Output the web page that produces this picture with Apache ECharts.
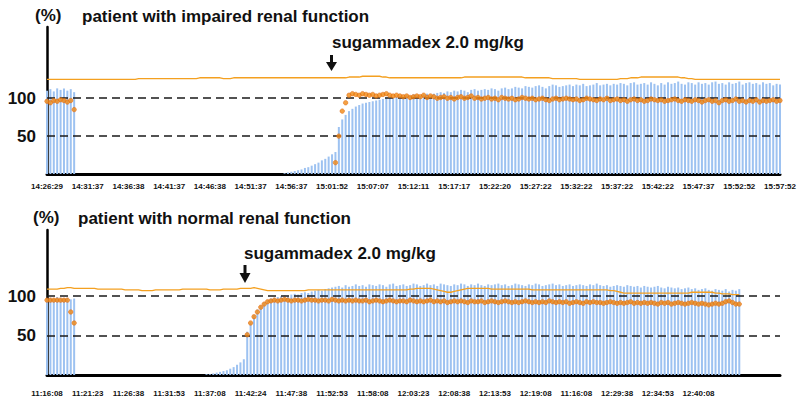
<!DOCTYPE html>
<html>
<head>
<meta charset="utf-8">
<script src="https://cdn.jsdelivr.net/npm/echarts@6/dist/echarts.min.js"></script>
<style>html,body{margin:0;padding:0;background:#fff}#c{width:802px;height:401px}</style>
</head>
<body>
<div id="c"></div>
<script>
// ---------- DATA ----------
var topTitle = 'patient with impaired renal function';
var botTitle = 'patient with normal renal function';
var unitLabel = '(%)';
var doseLabel = 'sugammadex 2.0 mg/kg';
var refLines = [100, 50];
var yTickLabels = [50, 100];

var topTimeLabels = ['14:26:29','14:31:37','14:36:38','14:41:37','14:46:38','14:51:37','14:56:37','15:01:52','15:07:07','15:12:11','15:17:17','15:22:20','15:27:22','15:32:22','15:37:22','15:42:22','15:47:37','15:52:52','15:57:52'];
var botTimeLabels = ['11:16:08','11:21:23','11:26:38','11:31:53','11:37:08','11:42:24','11:47:38','11:52:53','11:58:08','12:03:23','12:08:38','12:13:53','12:19:08','11:16:08','12:29:38','12:34:53','12:40:08'];
var samplesPerLabel = 12;
var sampleCount = 217;

// top panel: T1 twitch height bars
var topT1 = [
110,112,109,113,111,113,110,112,108,0,
0,0,0,0,0,0,0,0,0,0, 0,0,0,0,0,0,0,0,0,0, 0,0,0,0,0,0,0,0,0,0,
0,0,0,0,0,0,0,0,0,0, 0,0,0,0,0,0,0,0,0,0, 0,0,0,0,0,0,0,0,0,0,
1,2,3,4,5,6,8,9,11,13,15,18,20,23,26,29,
62,72,78,83,86,89,91,93,94,95,96,97,98,99,100,100,101,
102,103,102,104,103,105,104,103,105,106,104,106,107,
108,107,109,108,110,109,111,110,108,111,112,110,111,
112,111,113,112,110,113,114,112,113,115,114,113,116,
115,114,116,117,115,113,116,118,117,115,116,117,118,
116,118,117,119,116,117,118,120,117,118,119,117,119,
118,120,119,117,120,121,118,119,120,118,121,119,117,
120,118,121,119,120,122,119,118,121,120,118,121,119,
120,118,121,122,119,120,118,121,119,120,122,118,120,
121,119,120,118,121,119,120,117,119,118
];
// top panel: TOF ratio points
var N = null;
var topTOF = [
96,94,97,96,98,97,95,97,85,
N,N,N,N,N,N,N,N,N,N, N,N,N,N,N,N,N,N,N,N, N,N,N,N,N,N,N,N,N,N,
N,N,N,N,N,N,N,N,N,N, N,N,N,N,N,N,N,N,N,N, N,N,N,N,N,N,N,N,N,N,
N,N,N,N,N,N,N,N,N,N, N,N,N,N,N,N,
15,50,83,94,104,
106,105,104,106,105,104,105,103,104,105,106,104,103,
104,103,102,103,101,102,103,102,104,101,103,102,100,
101,102,100,101,99,101,102,100,101,103,100,101,99,
100,101,99,100,98,101,100,99,100,98,99,101,100,
99,100,98,99,100,98,97,99,100,98,99,100,99,
98,99,97,98,100,99,98,97,99,98,100,97,98,
99,97,98,96,98,99,97,98,96,97,99,98,97,
98,96,97,98,99,97,96,98,97,96,98,97,95,
97,98,96,97,94,97,98,96,97,99,96,97,95,
97,96,98,95,97,96,97,98,96,97
];
// top panel: orange trace line
var topTrace = [
125,125,125,125,125,125,125,125,125,125,
125,125,125,125,125,125,125,125,125,125,
125,125,125,125,125,125,125,126,126,126,
126,126,126,126,126,126,126,126,126,126,
126,126,126,126,126,127,127,127,127,127,
127,127,126,126,126,127,127,127,127,127,
127,127,127,127,127,127,127,127,127,127,
127,127,127,127,127,127,127,127,127,127,
127,127,127,127,127,127,127,127,127,128,
128,128,128,129,129,129,129,129,129,128,
128,127,127,127,127,127,127,127,127,127,
127,127,127,127,127,127,127,127,127,127,
127,127,127,128,128,128,128,128,128,128,
128,128,128,128,128,128,128,128,128,128,
128,127,127,127,127,127,127,127,127,126,
126,126,126,126,126,126,126,125,125,125,
125,125,125,125,125,125,125,125,125,126,
126,126,127,127,127,128,128,128,128,128,
128,128,128,128,128,128,128,127,127,126,
126,125,125,125,125,125,125,125,125,125,
125,125,125,125,125,125,125,125,125,125,
125,125,125,125,125,125,125
];

// bottom panel
var botT1 = [
97,98,97,99,98,97,98,96,97,0,
0,0,0,0,0,0,0,0,0,0, 0,0,0,0,0,0,0,0,0,0, 0,0,0,0,0,0,0,0,0,0, 0,0,0,0,0,0,0,
1,1,2,3,4,5,6,8,10,13,16,20,
55,67,76,83,88,92,95,97,98,99,100,
101,100,102,103,102,104,105,104,106,107,108,107,109,110,111,
112,113,111,114,112,113,115,113,114,112,115,114,
113,115,114,112,115,116,113,114,115,113,114,116,
115,113,114,116,114,115,113,116,115,114,113,115,
114,116,115,113,115,114,116,114,113,115,114,115,
116,114,115,113,114,116,115,114,113,115,114,116,
115,113,114,115,116,114,115,113,114,115,113,114,
115,114,113,115,114,116,114,113,114,112,113,114,
113,112,114,113,112,113,111,113,112,111,112,113,
111,110,112,111,110,111,109,110,111,109,110,108,
109,110,108,107,109,108,107,109,106,108,107,109,
N,N,N,N,N,N,N,N,N,N,N,N
];
var botTOF = [
95,95,95,95,95,95,95,80,66,
N,N,N,N,N,N,N,N,N,N, N,N,N,N,N,N,N,N,N,N, N,N,N,N,N,N,N,N,N,N,
N,N,N,N,N,N,N,N,N,N, N,N,N,N,N,N,N,N,N,N,
51,66,74,80,86,90,93,94,
95,94,95,96,95,94,95,95,94,95,96,95,
95,94,95,95,94,96,95,94,95,94,95,94,
95,94,94,95,93,94,95,94,93,94,95,94,
93,94,94,93,95,94,93,94,93,94,95,93,
94,93,94,92,93,94,93,94,93,92,94,93,
93,94,92,93,94,93,92,93,94,93,92,93,
92,93,94,93,92,93,92,93,92,94,93,92,
93,92,93,91,92,93,92,91,93,92,93,92,
92,91,92,93,92,91,92,91,92,93,91,92,
91,92,91,92,91,90,92,91,92,90,91,92,
91,90,91,92,91,90,91,90,89,90,91,90,
91,93,94,92,90,90,
N,N,N,N,N,N,N,N,N,N,N,N
];
var botTrace = [
109,109,109,109,110,110,111,111,110,110,
110,110,110,110,110,109,109,109,109,109,
109,109,109,108,108,108,108,108,107,107,
107,107,108,108,108,108,108,108,108,108,
109,109,109,109,109,109,109,109,108,108,
108,108,109,109,109,109,109,110,110,110,
110,111,110,109,108,107,107,107,107,107,
107,107,107,107,107,107,107,108,108,108,
108,108,108,108,108,108,108,108,108,108,
108,108,108,108,108,108,108,108,108,108,
108,108,108,108,108,108,108,109,109,110,
110,110,110,110,109,108,107,106,105,105,
106,107,108,109,110,110,110,110,110,110,
110,109,109,109,109,109,109,109,109,109,
109,109,109,108,108,108,108,108,108,108,
108,108,108,108,108,108,108,108,108,108,
108,108,108,108,108,108,107,107,106,105,
104,104,104,104,104,104,104,104,104,104,
104,104,104,104,104,104,104,104,104,104,
105,105,105,105,105,105,105,104,104,103,
103,103,102,102,102,
N,N,N,N,N,N,N,N,N,N,N,N
];

// ---------- CHART ----------
var cats = [];
for (var i = 0; i < sampleCount; i++) cats.push(String(i));

var FONT = '"Liberation Sans", Arial, sans-serif';
var BAR = '#9dc2f1';
var ORANGE = '#f08a14';
var TRACE = '#f4a020';

function grid(top, height) {
  return { left: 47, right: 22, top: top, height: height, containLabel: false };
}
function xAxis(gi, labels, margin) {
  return {
    type: 'category', gridIndex: gi, data: cats, boundaryGap: false,
    axisLine: { show: true, lineStyle: { color: '#000', width: 3 } },
    axisTick: { show: false },
    splitLine: { show: false },
    axisLabel: {
      interval: samplesPerLabel - 1, margin: margin,
      color: '#111', fontFamily: FONT, fontWeight: 'bold', fontSize: 8,
      formatter: function (v, idx) { var k = idx / samplesPerLabel; return labels[k] || ''; }
    }
  };
}
function yAxis(gi, max) {
  return {
    type: 'value', gridIndex: gi, min: 0, max: max, interval: 50,
    axisLine: { show: true, lineStyle: { color: '#000', width: 2.5 } },
    axisTick: { show: false },
    splitLine: { show: false },
    axisLabel: {
      margin: 11, color: '#111', fontFamily: FONT, fontWeight: 'bold', fontSize: 17,
      showMaxLabel: false,
      formatter: function (v) { return yTickLabels.indexOf(v) >= 0 ? String(v) : ''; }
    }
  };
}
function seriesFor(gi, bars, tof, trace) {
  return [
    {
      type: 'bar', xAxisIndex: gi, yAxisIndex: gi, data: bars, barWidth: 2,
      itemStyle: { color: BAR }, z: 2, silent: true,
      markLine: {
        silent: true, symbol: ['none', 'none'], label: { show: false },
        lineStyle: { color: '#1a1a1a', width: 1.6, type: [8, 5] },
        data: refLines.map(function (v) { return { yAxis: v }; })
      }
    },
    {
      type: 'line', xAxisIndex: gi, yAxisIndex: gi, data: trace, showSymbol: false,
      lineStyle: { color: TRACE, width: 1.3 }, z: 4, silent: true
    },
    {
      type: 'scatter', xAxisIndex: gi, yAxisIndex: gi, data: tof, symbolSize: 4.5,
      itemStyle: { color: ORANGE, borderColor: '#e0620a', borderWidth: 0.6 }, z: 5, silent: true
    }
  ];
}
function txt(x, y, s, size) {
  return { type: 'text', x: x, y: y, style: { text: s, font: 'bold ' + size + 'px ' + FONT, fill: '#111', textVerticalAlign: 'middle', verticalAlign: 'middle' } };
}
function arrow(cx, y0, y1, y2) {
  return [
    { type: 'rect', shape: { x: cx - 1.5, y: y0, width: 3, height: y1 - y0 + 1 }, style: { fill: '#111' } },
    { type: 'polygon', shape: { points: [[cx - 5.5, y1], [cx + 5.5, y1], [cx, y2]] }, style: { fill: '#111' } }
  ];
}

var chart = echarts.init(document.getElementById('c'), null, { renderer: 'svg' });
chart.setOption({
  animation: false,
  backgroundColor: '#fff',
  grid: [grid(27, 147), grid(230, 145)],
  xAxis: [xAxis(0, topTimeLabels, 8), xAxis(1, botTimeLabels, 14)],
  yAxis: [yAxis(0, 194), yAxis(1, 184)],
  series: seriesFor(0, topT1, topTOF, topTrace).concat(seriesFor(1, botT1, botTOF, botTrace)),
  graphic: [
    txt(35, 15, unitLabel, 17),
    txt(82, 16, topTitle, 17),
    txt(332, 42, doseLabel, 17),
    txt(33, 217, unitLabel, 17),
    txt(78, 218, botTitle, 17),
    txt(244, 253, doseLabel, 17)
  ].concat(arrow(331.5, 55, 62, 71)).concat(arrow(245, 265, 273, 283))
});
</script>
</body>
</html>
